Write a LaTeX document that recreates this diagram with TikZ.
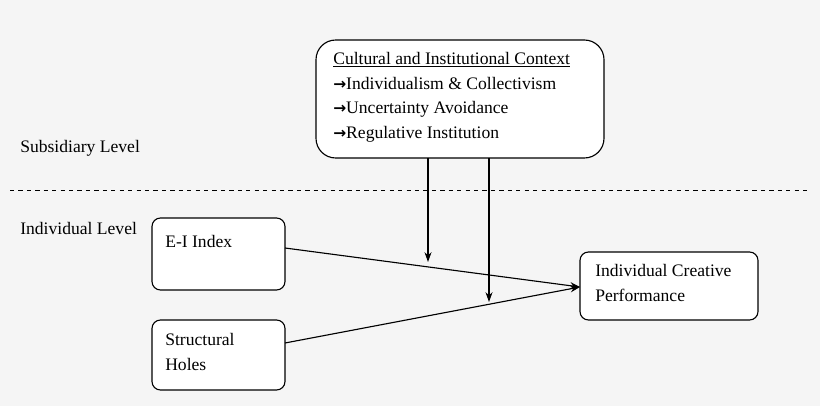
\documentclass[tikz,border=0pt]{standalone}
\usepackage{fontspec}
\setmainfont{Liberation Serif}
\newfontfamily\arrowfont{DejaVu Sans}
\newcommand{\rarr}{{\arrowfont\bfseries\fontsize{11}{13}\selectfont →}}
\usetikzlibrary{positioning,arrows.meta}
\begin{document}
\begin{tikzpicture}[x=0.025cm,y=-0.025cm,
  font=\fontsize{12.5}{15.6}\selectfont,
  arr/.style={-{Stealth[length=7pt,width=5pt]}, thick}]
  \fill[black!4] (0,0) rectangle (820,406);
  \useasboundingbox (0,0) rectangle (820,406);

  % context box
  \draw[thick, rounded corners=14pt, fill=white] (316,40) rectangle (604,158);
  \node[anchor=north west, align=left, inner sep=0pt] (ctx) at (333,52)
    {\underline{Cultural and Institutional Context}\\[2pt]
     \rarr Individualism \& Collectivism\\[2pt]
     \rarr Uncertainty Avoidance\\[2pt]
     \rarr Regulative Institution};
  \coordinate (ctxa) at (428,158);
  \coordinate (ctxb) at (489,158);

  \node[anchor=west, inner sep=0pt] (sub) at (20,148) {Subsidiary Level};
  \draw[dashed] (10,190) -- (810,190);
  \node[anchor=west, inner sep=0pt] (ind) at (20,228) {Individual Level};

  % boxes
  \draw[thick, rounded corners=6pt, fill=white] (152,218) rectangle (285,290);
  \node[anchor=west, inner sep=0pt] (ei) at (165,241) {E-I Index};
  \coordinate (eiout) at (285,248);
  \draw[thick, rounded corners=6pt, fill=white] (152,320) rectangle (285,390);
  \node[anchor=north west, align=left, inner sep=0pt] (sh) at (165,333) {Structural\\[2pt]Holes};
  \coordinate (shout) at (285,343);
  \draw[thick, rounded corners=6pt, fill=white] (580,252) rectangle (758,320);
  \node[anchor=north west, align=left, inner sep=0pt] (icp) at (595,264) {Individual Creative\\[2pt]Performance};
  \coordinate (icpin) at (580,287);

  \draw[arr] (eiout) -- (icpin);
  \draw[arr] (shout) -- (icpin);
  \draw[arr] (ctxa) -- (428,262);
  \draw[arr] (ctxb) -- (489,302);
\end{tikzpicture}
\end{document}
